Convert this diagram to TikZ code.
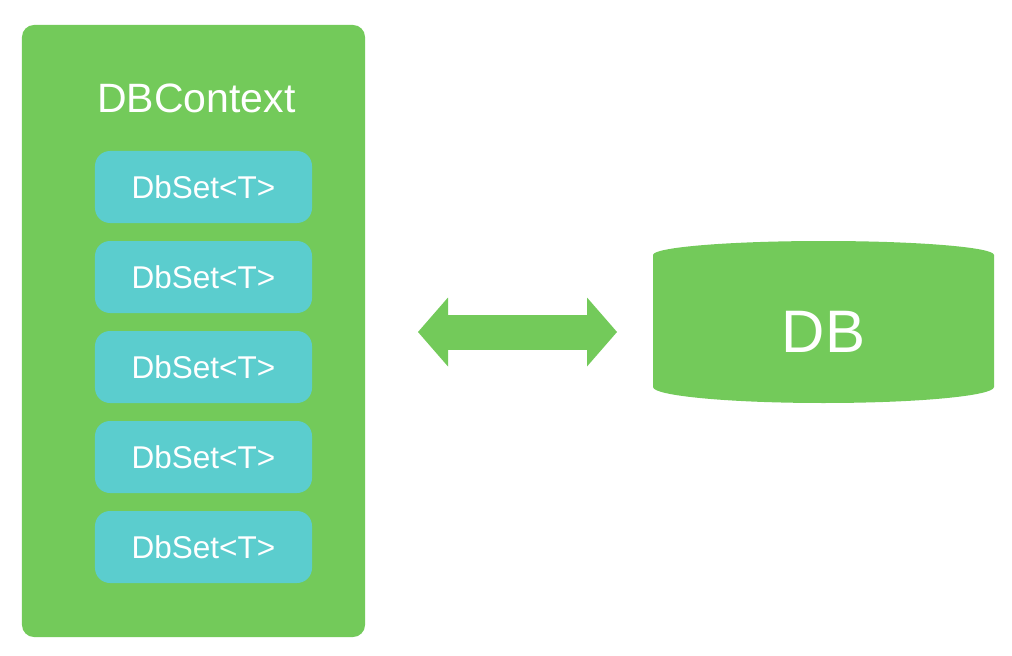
\documentclass[tikz,border=0pt]{standalone}
\usepackage{fontspec}
\setmainfont{Liberation Sans}
\usetikzlibrary{arrows.meta}
\definecolor{dbgreen}{RGB}{115,202,90}
\definecolor{dbteal}{RGB}{91,205,206}
\tikzset{
  ctxbox/.style={rectangle, rounded corners=12bp, fill=dbgreen, minimum width=343bp, minimum height=612bp, inner sep=0pt},
  titletext/.style={text=white, inner sep=0pt, font=\fontsize{41bp}{45bp}\selectfont, text height=29.4bp, text depth=0pt},
  setbox/.style={rectangle, rounded corners=15bp, fill=dbteal, minimum width=217bp, minimum height=72bp, inner sep=0pt,
    text=white, font=\fontsize{31.5bp}{35bp}\selectfont, text height=22.6bp, text depth=0pt},
  dbtext/.style={text=white, inner sep=0pt, font=\fontsize{60bp}{64bp}\selectfont, text height=43bp, text depth=0pt},
  dbshape/.style={fill=dbgreen},
  dblarrow/.style={dbgreen, line width=35bp,
    {Triangle[length=30bp 0 0,width=69bp 0 0,line width=0pt 0 0]}-{Triangle[length=30bp 0 0,width=69bp 0 0,line width=0pt 0 0]}}
}
\begin{document}
\begin{tikzpicture}[x=1bp,y=-1bp]
\path[use as bounding box] (0,0) rectangle (1012,656);
% context container
\node[ctxbox] (ctx) at (193.5,331) {};
\node[titletext] (title) at (196.5,97.5) {DBContext};
\foreach \i in {0,...,4}{
  \node[setbox] (set\i) at (203.5,{187+90*\i}) {DbSet<T>};
}
% database cylinder
\fill[dbshape] (653,255)
  .. controls (653,247.3) and (729.3,241) .. (823.5,241)
  .. controls (917.7,241) and (994,247.3) .. (994,255)
  -- (994,387)
  .. controls (994,395.8) and (917.7,403) .. (823.5,403)
  .. controls (729.3,403) and (653,395.8) .. (653,387)
  -- cycle;
\node[dbtext] (db) at (823.5,331) {DB};
% double arrow
\coordinate (al) at (418,332);
\coordinate (ar) at (617,332);
\draw[dblarrow] (al) -- (ar);
\end{tikzpicture}
\end{document}
